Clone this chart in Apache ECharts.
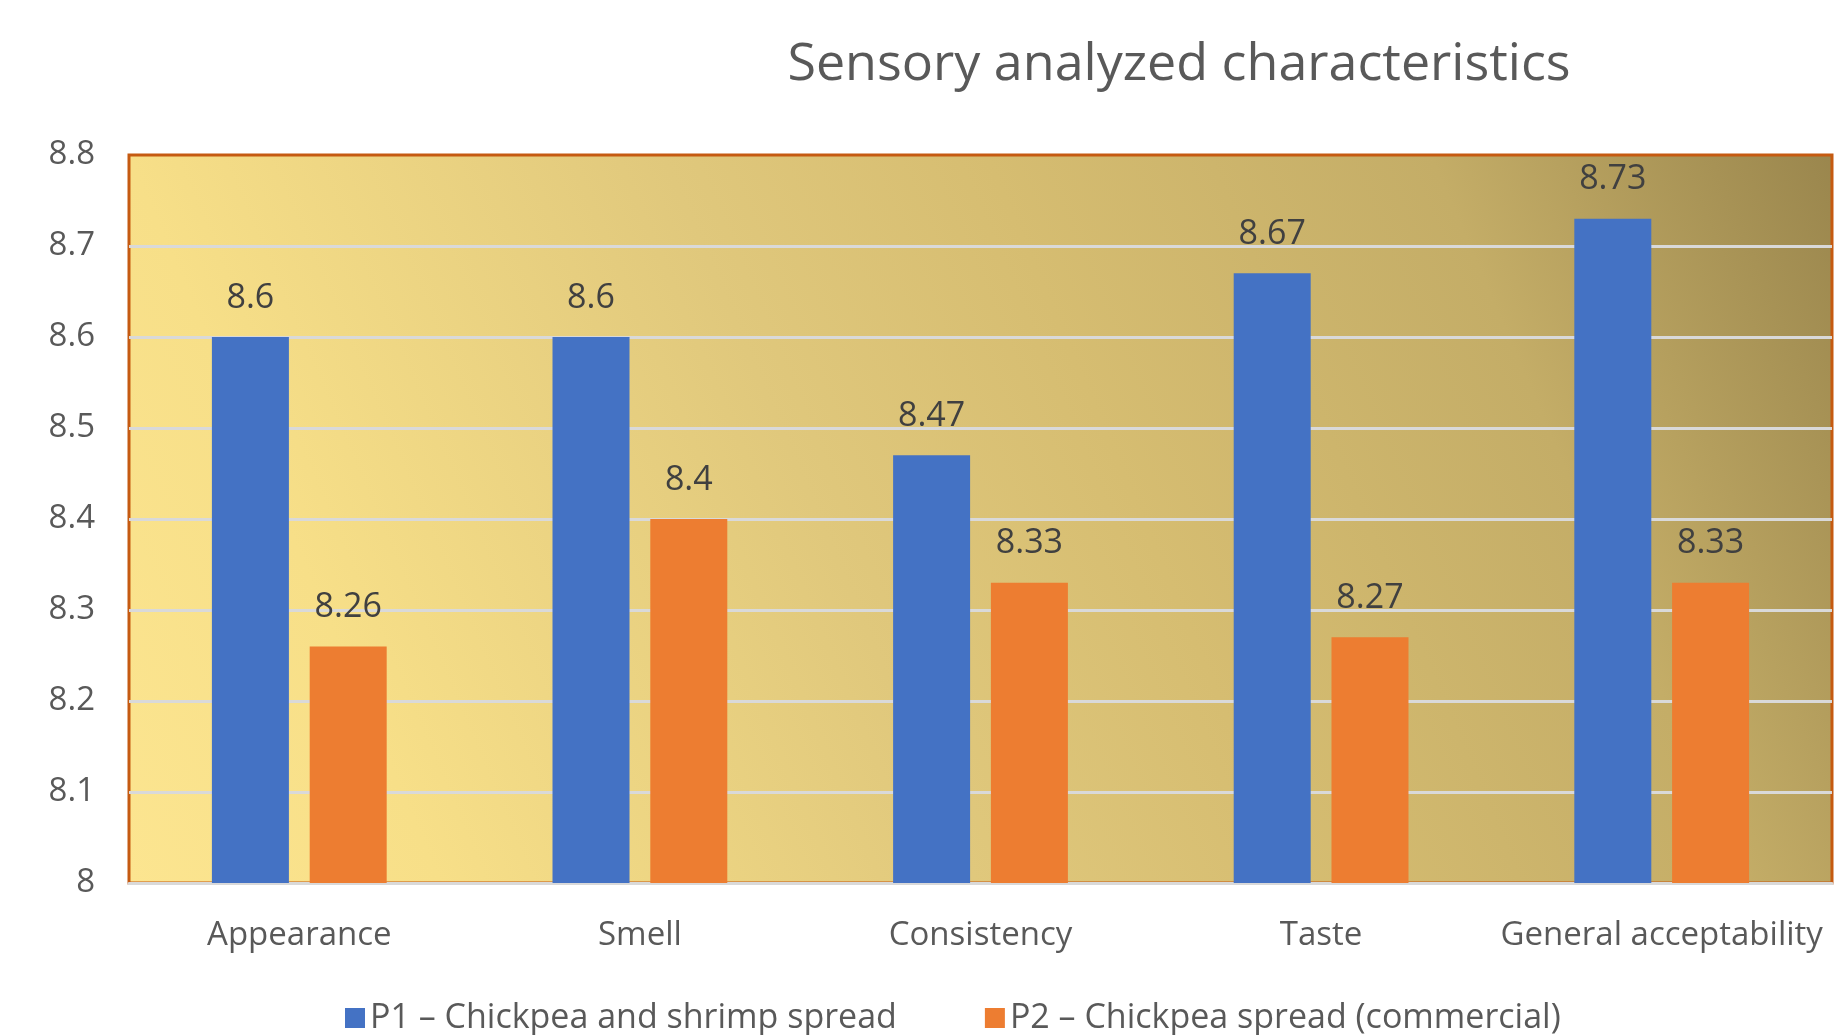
<!DOCTYPE html>
<html>
<head>
<meta charset="utf-8">
<script src="https://cdn.jsdelivr.net/npm/echarts@6/dist/echarts.min.js"></script>
<style>
  html, body { margin: 0; padding: 0; background: #fff; }
  #chart { width: 1834px; height: 1035px; }
</style>
</head>
<body>
<div id="chart"></div>
<script>
const categories = ['Appearance', 'Smell', 'Consistency', 'Taste', 'General acceptability'];
const p1Values = [8.6, 8.6, 8.47, 8.67, 8.73];
const p2Values = [8.26, 8.4, 8.33, 8.27, 8.33];
const seriesNames = ['P1 – Chickpea and shrimp spread', 'P2 – Chickpea spread (commercial)'];
const yTicks = { min: 8, max: 8.8, interval: 0.1 };

const font = '"Open Sans", "Noto Sans", sans-serif';
const chart = echarts.init(document.getElementById('chart'));

const labelStyle = {
  show: true,
  position: 'top',
  distance: 22,
  color: '#404040',
  fontSize: 34,
  fontFamily: font
};

chart.setOption({
  animation: false,
  title: {
    text: 'Sensory analyzed characteristics',
    left: 1174,
    top: 34,
    textAlign: 'center',
    textStyle: { color: '#595959', fontSize: 52, fontWeight: 'normal', fontFamily: font }
  },
  legend: {
    bottom: -5,
    left: 340,
    itemWidth: 20,
    itemHeight: 20,
    itemGap: 88,
    icon: 'rect',
    textStyle: { color: '#595959', fontSize: 34, fontFamily: font },
    data: seriesNames
  },
  grid: {
    left: 129,
    right: 2,
    top: 155,
    bottom: 152,
    show: true,
    borderColor: '#c55a11',
    borderWidth: 3,
    backgroundColor: new echarts.graphic.LinearGradient(0, 1, 1, 0, [
      { offset: 0, color: '#fce590' },
      { offset: 0.155, color: '#f7df88' },
      { offset: 0.42, color: '#e0c87c' },
      { offset: 0.58, color: '#d6bd71' },
      { offset: 0.8, color: '#c4ad67' },
      { offset: 1, color: '#9a864d' }
    ])
  },
  xAxis: {
    type: 'category',
    data: categories,
    axisTick: { show: false },
    axisLine: { lineStyle: { color: '#d9d9d9', width: 3 } },
    axisLabel: { interval: 0, color: '#595959', fontSize: 33, fontFamily: font, margin: 36 }
  },
  yAxis: {
    type: 'value',
    min: yTicks.min,
    max: yTicks.max,
    interval: yTicks.interval,
    axisLine: { show: false },
    axisTick: { show: false },
    axisLabel: {
      color: '#595959',
      fontSize: 33,
      fontFamily: font,
      margin: 34,
      formatter: (v) => String(Math.round(v * 10) / 10)
    },
    splitLine: { showMaxLine: false, lineStyle: { color: '#d9d9d9', width: 3 } }
  },
  series: [
    {
      name: seriesNames[0],
      type: 'bar',
      data: p1Values,
      barWidth: 77,
      barGap: '27%',
      itemStyle: { color: '#4472c4' },
      label: labelStyle
    },
    {
      name: seriesNames[1],
      type: 'bar',
      data: p2Values,
      barWidth: 77,
      itemStyle: { color: '#ed7d31' },
      label: labelStyle
    }
  ]
});
window.addEventListener('resize', function() {
  chart.resize();
});
</script>
</body>
</html>
